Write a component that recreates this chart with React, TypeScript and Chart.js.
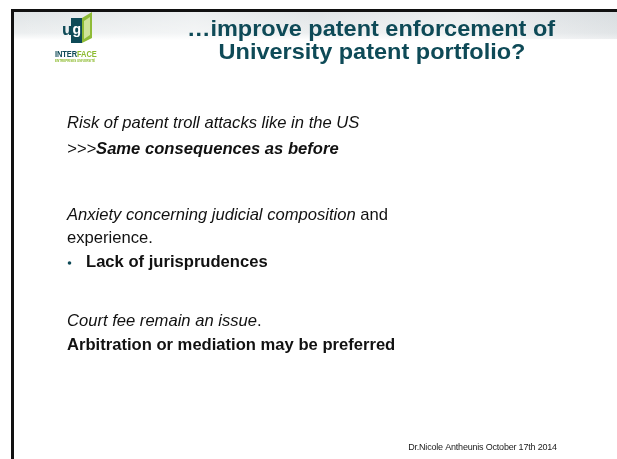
import { useEffect, useRef } from "react";
import { Chart, registerables } from "chart.js";

Chart.register(...registerables);

const titleLines = ["…improve patent enforcement of", "University patent portfolio?"];

type Run = { text: string; italic?: boolean; bold?: boolean };
type Line = { runs: Run[]; bullet?: boolean; y: number };

const bodyLines: Line[] = [
  { y: 123, runs: [{ text: "Risk of patent troll attacks like in the US", italic: true }] },
  { y: 149, runs: [{ text: ">>>", italic: true }, { text: "Same consequences as before", italic: true, bold: true }] },
  { y: 215, runs: [{ text: "Anxiety concerning judicial composition", italic: true }, { text: " and" }] },
  { y: 238, runs: [{ text: "experience." }] },
  { y: 262, bullet: true, runs: [{ text: "Lack of jurisprudences", bold: true }] },
  { y: 321, runs: [{ text: "Court fee remain an issue", italic: true }, { text: "." }] },
  { y: 345, runs: [{ text: "Arbitration or mediation may be preferred", bold: true }] },
];

const footerText = "Dr.Nicole Antheunis October 17th 2014";
const logoWord = ["INTER", "FACE"];
const logoSub = "ENTREPRISES UNIVERSITÉ";

const FONT = '"Liberation Sans", Arial, sans-serif';
const TEAL = "#0e4a57";

const slidePlugin = {
  id: "slide",
  beforeDraw(chart: any) {
    const ctx: CanvasRenderingContext2D = chart.ctx;
    const W = chart.width;
    const H = chart.height;
    ctx.save();
    ctx.fillStyle = "#ffffff";
    ctx.fillRect(0, 0, W, H);
    // header band
    const g = ctx.createLinearGradient(0, 12, 0, 40);
    g.addColorStop(0, "#e0e4e6");
    g.addColorStop(0.75, "#eceff0");
    g.addColorStop(1, "#ffffff");
    ctx.fillStyle = g;
    ctx.fillRect(14, 12, W - 14, 28);
    const hg = ctx.createLinearGradient(14, 0, W, 0);
    hg.addColorStop(0, "rgba(255,255,255,0)");
    hg.addColorStop(0.3, "rgba(255,255,255,0.4)");
    hg.addColorStop(0.5, "rgba(255,255,255,0)");
    hg.addColorStop(0.75, "rgba(255,255,255,0.35)");
    hg.addColorStop(1, "rgba(200,205,210,0.3)");
    ctx.fillStyle = hg;
    ctx.fillRect(14, 12, W - 14, 27);
    // borders
    ctx.fillStyle = "#111111";
    ctx.fillRect(11, 9, W - 11, 3);
    ctx.fillRect(11, 9, 3, H - 9);
    ctx.restore();
  },
  afterDraw(chart: any) {
    const ctx: CanvasRenderingContext2D = chart.ctx;
    ctx.save();
    // logo
    ctx.fillStyle = TEAL;
    ctx.textBaseline = "alphabetic";
    ctx.textAlign = "left";
    ctx.font = `bold 17px ${FONT}`;
    ctx.fillText("u", 62, 35);
    ctx.fillRect(71, 18, 11, 25);
    ctx.fillStyle = "#ffffff";
    ctx.font = `bold 14px ${FONT}`;
    ctx.fillText("g", 72.5, 34);
    ctx.fillStyle = "#8fbb37";
    ctx.beginPath();
    ctx.moveTo(82, 18);
    ctx.lineTo(92, 12);
    ctx.lineTo(92, 38);
    ctx.lineTo(82, 43);
    ctx.closePath();
    ctx.fill();
    ctx.fillStyle = "#cfe39a";
    ctx.beginPath();
    ctx.moveTo(84, 21);
    ctx.lineTo(90, 17);
    ctx.lineTo(90, 35);
    ctx.lineTo(84, 39);
    ctx.closePath();
    ctx.fill();
    ctx.save();
    ctx.translate(55, 57);
    ctx.scale(1, 1.3);
    ctx.font = `bold 7.5px ${FONT}`;
    (ctx as any).letterSpacing = "-0.1px";
    ctx.fillStyle = TEAL;
    ctx.fillText(logoWord[0], 0, 0);
    const w0 = ctx.measureText(logoWord[0]).width;
    ctx.fillStyle = "#8dbb2f";
    ctx.fillText(logoWord[1], w0, 0);
    ctx.restore();
    ctx.font = `bold 3px ${FONT}`;
    ctx.fillStyle = "#8dbb2f";
    ctx.fillText(logoSub, 55, 62);

    // title
    ctx.fillStyle = TEAL;
    ctx.font = `bold 21.5px ${FONT}`;
    ctx.textAlign = "center";
    ctx.textBaseline = "alphabetic";
    const titleY = [35.5, 58.5];
    const titleX = [371, 372];
    titleLines.forEach((t, i) => {
      ctx.save();
      ctx.translate(titleX[i], titleY[i]);
      ctx.scale(1.093, 1);
      ctx.fillText(t, 0, 0);
      ctx.restore();
    });

    // body
    ctx.textAlign = "left";
    ctx.textBaseline = "middle";
    for (const line of bodyLines) {
      let x = 67;
      if (line.bullet) {
        ctx.fillStyle = TEAL;
        ctx.beginPath();
        ctx.arc(69.5, line.y + 1, 1.8, 0, Math.PI * 2);
        ctx.fill();
        x = 86;
      }
      ctx.fillStyle = "#111111";
      for (const r of line.runs) {
        ctx.font = `${r.italic ? "italic " : ""}${r.bold ? "bold " : ""}16.6px ${FONT}`;
        ctx.fillText(r.text, x, line.y);
        x += ctx.measureText(r.text).width;
      }
    }

    // footer
    ctx.fillStyle = "#222222";
    ctx.font = `9px ${FONT}`;
    ctx.textAlign = "center";
    (ctx as any).letterSpacing = "-0.2px";
    ctx.fillText(footerText, 482.5, 448);
    ctx.restore();
  },
};

export default function App() {
  const ref = useRef<HTMLCanvasElement | null>(null);
  useEffect(() => {
    document.body.style.margin = "0";
    if (!ref.current) return;
    const chart = new Chart(ref.current, {
      type: "scatter",
      data: { datasets: [] },
      options: {
        animation: false,
        responsive: false,
        devicePixelRatio: 1,
        layout: { padding: 0 },
        scales: { x: { display: false }, y: { display: false } },
        plugins: { legend: { display: false }, tooltip: { enabled: false } },
      },
      plugins: [slidePlugin],
    });
    return () => chart.destroy();
  }, []);
  return (
    <div style={{ position: "absolute", left: 0, top: 0, width: 617, height: 459 }}>
      <canvas ref={ref} width={617} height={459} style={{ display: "block" }} />
    </div>
  );
}
